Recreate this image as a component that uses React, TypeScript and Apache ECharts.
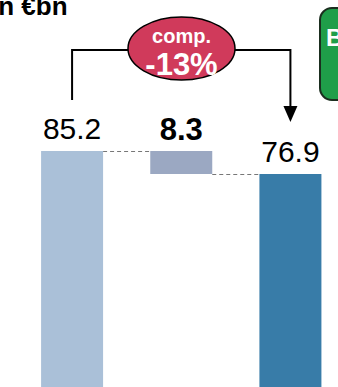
import React, { useEffect, useRef } from "react";
import * as echarts from "echarts";

const categories = ["Start", "Change", "End"];
const values = [85.2, 8.3, 76.9];
const labels = ["85.2", "8.3", "76.9"];
const barColors = ["#aac0d8", "#9ba8c2", "#387ca8"];
const titleText = "in €bn";
const bubbleTop = "comp.";
const bubbleBottom = "-13%";
const boxText = "B";

export default function App() {
  const ref = useRef<HTMLDivElement>(null);
  useEffect(() => {
    const chart = echarts.init(ref.current!, null, { renderer: "svg" });
    const base = [0, values[2], 0];
    const option: any = {
      animation: false,
      grid: { left: 17.5, right: 0, top: 110, bottom: 0, containLabel: false },
      xAxis: {
        type: "category",
        data: categories,
        show: false,
      },
      yAxis: { type: "value", min: 0, max: 100, show: false },
      series: [
        {
          type: "bar",
          stack: "w",
          data: base,
          barWidth: 62,
          itemStyle: { color: "transparent" },
          silent: true,
        },
        {
          type: "bar",
          stack: "w",
          barWidth: 62,
          data: values.map((v, i) => ({
            value: v,
            itemStyle: { color: barColors[i] },
            label: {
              show: true,
              position: "top",
              distance: i === 1 ? 6 : 7,
              formatter: labels[i],
              color: "#000",
              fontSize: i === 1 ? 31 : 30,
              fontWeight: i === 1 ? "bold" : "normal",
              fontFamily: "Liberation Sans, Arial, sans-serif",
            },
          })),
        },
      ],
    };
    chart.setOption(option);

    const p = (i: number, v: number) => chart.convertToPixel({ gridIndex: 0 }, [i, v]) as number[];
    const half = 31;
    const a = p(0, values[0]);
    const b = p(1, values[0]);
    const c = p(1, values[2]);
    const d = p(2, values[2]);
    const dash = { stroke: "#777", lineWidth: 1.2, lineDash: [4, 3] };
    const font = "Liberation Sans, Arial, sans-serif";
    chart.setOption({
      graphic: [
        { type: "line", shape: { x1: a[0] + half, y1: a[1] + 0.5, x2: b[0] - half, y2: b[1] + 0.5 }, style: dash },
        { type: "line", shape: { x1: c[0] + half, y1: c[1] + 0.5, x2: d[0] - half, y2: d[1] + 0.5 }, style: dash },
        {
          type: "text",
          x: -9,
          y: 6,
          style: { text: titleText, font: `bold 26px ${font}`, fill: "#000", verticalAlign: "middle" },
        },
        {
          type: "polyline",
          shape: { points: [[a[0], 100], [a[0], 50], [128, 50]] },
          style: { stroke: "#000", lineWidth: 2, fill: null },
        },
        {
          type: "polyline",
          shape: { points: [[235, 50], [d[0], 50], [d[0], 108]] },
          style: { stroke: "#000", lineWidth: 2, fill: null },
        },
        {
          type: "polygon",
          shape: { points: [[d[0] - 7, 106], [d[0] + 7, 106], [d[0], 122]] },
          style: { fill: "#000" },
        },
        {
          type: "ellipse",
          shape: { cx: 181.5, cy: 48.5, rx: 53.5, ry: 31.5 },
          style: { fill: "#d03a5b", stroke: "#000", lineWidth: 1.5 },
        },
        {
          type: "text",
          x: 181.5,
          y: 36,
          style: { text: bubbleTop, font: `bold 20px ${font}`, fill: "#fff", align: "center", verticalAlign: "middle" },
        },
        {
          type: "text",
          x: 181.5,
          y: 64,
          style: { text: bubbleBottom, font: `bold 31px ${font}`, fill: "#fff", align: "center", verticalAlign: "middle" },
        },
        {
          type: "rect",
          shape: { x: 320, y: 8, width: 60, height: 92, r: 12 },
          style: { fill: "#1f9e49", stroke: "#1b2e1f", lineWidth: 2 },
        },
        {
          type: "text",
          x: 326,
          y: 37,
          style: { text: boxText, font: `bold 24px ${font}`, fill: "#fff", align: "left", verticalAlign: "middle" },
        },
      ],
    });
    return () => chart.dispose();
  }, []);
  return (
    <div style={{ position: "fixed", left: 0, top: 0, width: 338, height: 387, overflow: "hidden", background: "#fff" }}>
      <div ref={ref} style={{ width: 345, height: 387 }} />
    </div>
  );
}
